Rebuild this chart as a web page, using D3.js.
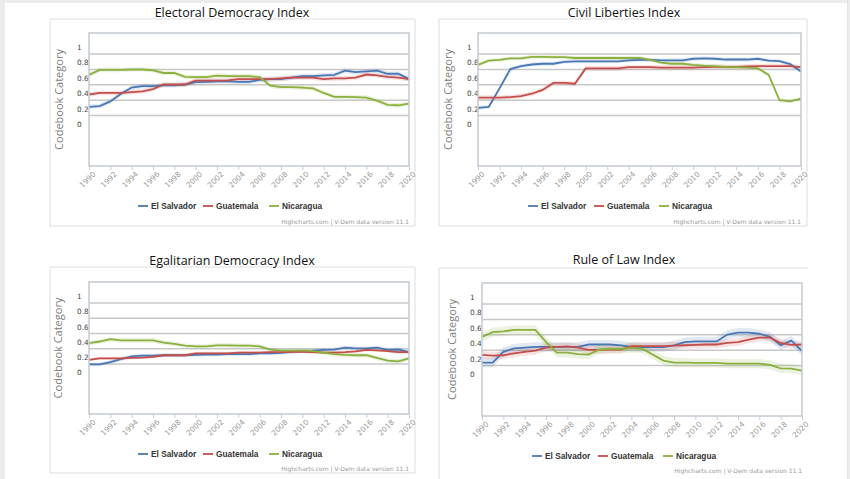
<!DOCTYPE html>
<html>
<head>
<meta charset="utf-8">
<script src="https://cdnjs.cloudflare.com/ajax/libs/d3/7.8.5/d3.min.js"></script>
<style>
body { margin: 0; background: #fff; }
svg { display: block; }
</style>
</head>
<body>
<svg id="chart" width="850" height="479"></svg>
<script>
// years on the x axis, labels every second year
var years = d3.range(1990, 2021);
var xTickYears = [1990, 1992, 1994, 1996, 1998, 2000, 2002, 2004, 2006, 2008, 2010, 2012, 2014, 2016, 2018, 2020];
var yTicks = [0, 0.2, 0.4, 0.6, 0.8, 1];
var yTickLabels = ["0", "0.2", "0.4", "0.6", "0.8", "1"];
var countries = ["El Salvador", "Guatemala", "Nicaragua"];
var colors = ["#4a78b4", "#c44e4b", "#8bb03e"];

// Electoral Democracy Index
var electoralElSalvador = [0.23, 0.24, 0.30, 0.40, 0.48, 0.50, 0.50, 0.51, 0.51, 0.52, 0.55, 0.555, 0.56, 0.56, 0.555, 0.555, 0.58, 0.59, 0.59, 0.61, 0.63, 0.63, 0.64, 0.645, 0.70, 0.68, 0.69, 0.70, 0.66, 0.66, 0.59];
var electoralGuatemala = [0.39, 0.41, 0.41, 0.41, 0.42, 0.43, 0.46, 0.52, 0.52, 0.52, 0.57, 0.57, 0.57, 0.575, 0.59, 0.59, 0.59, 0.59, 0.60, 0.61, 0.61, 0.61, 0.59, 0.60, 0.60, 0.61, 0.65, 0.64, 0.62, 0.61, 0.59];
var electoralNicaragua = [0.645, 0.71, 0.71, 0.71, 0.715, 0.715, 0.705, 0.67, 0.67, 0.62, 0.615, 0.615, 0.635, 0.63, 0.63, 0.63, 0.615, 0.505, 0.485, 0.485, 0.48, 0.47, 0.41, 0.36, 0.36, 0.355, 0.35, 0.31, 0.255, 0.25, 0.27];
var electoralBand = [0.03, 0.03, 0.03];

// Civil Liberties Index
var civilElSalvador = [0.215, 0.23, 0.47, 0.72, 0.76, 0.78, 0.79, 0.79, 0.815, 0.82, 0.82, 0.82, 0.82, 0.82, 0.835, 0.84, 0.84, 0.835, 0.835, 0.835, 0.855, 0.86, 0.855, 0.845, 0.845, 0.845, 0.855, 0.83, 0.825, 0.785, 0.69];
var civilGuatemala = [0.35, 0.35, 0.35, 0.355, 0.37, 0.40, 0.45, 0.54, 0.54, 0.53, 0.73, 0.73, 0.73, 0.73, 0.745, 0.745, 0.745, 0.74, 0.74, 0.74, 0.74, 0.745, 0.75, 0.75, 0.75, 0.755, 0.76, 0.76, 0.76, 0.76, 0.745];
var civilNicaragua = [0.775, 0.83, 0.84, 0.86, 0.86, 0.88, 0.88, 0.875, 0.875, 0.865, 0.865, 0.865, 0.865, 0.865, 0.865, 0.865, 0.84, 0.805, 0.79, 0.79, 0.775, 0.765, 0.76, 0.75, 0.745, 0.74, 0.73, 0.645, 0.315, 0.30, 0.335];
var civilBand = [0.025, 0.03, 0.025];

// Egalitarian Democracy Index
var egalitarianElSalvador = [0.11, 0.11, 0.14, 0.18, 0.215, 0.225, 0.225, 0.23, 0.23, 0.23, 0.235, 0.24, 0.24, 0.245, 0.245, 0.245, 0.255, 0.255, 0.26, 0.275, 0.285, 0.29, 0.30, 0.305, 0.33, 0.32, 0.32, 0.33, 0.30, 0.305, 0.27];
var egalitarianGuatemala = [0.17, 0.19, 0.19, 0.19, 0.195, 0.20, 0.21, 0.23, 0.23, 0.23, 0.255, 0.255, 0.255, 0.255, 0.265, 0.265, 0.265, 0.27, 0.27, 0.275, 0.275, 0.27, 0.265, 0.265, 0.27, 0.28, 0.30, 0.295, 0.285, 0.27, 0.27];
var egalitarianNicaragua = [0.39, 0.41, 0.44, 0.425, 0.425, 0.425, 0.425, 0.395, 0.38, 0.355, 0.345, 0.345, 0.36, 0.36, 0.355, 0.355, 0.345, 0.305, 0.29, 0.29, 0.29, 0.285, 0.265, 0.245, 0.235, 0.23, 0.23, 0.195, 0.16, 0.15, 0.19];
var egalitarianBand = [0.025, 0.02, 0.03];

// Rule of Law Index
var lawElSalvador = [0.155, 0.155, 0.295, 0.34, 0.35, 0.36, 0.36, 0.36, 0.36, 0.36, 0.39, 0.39, 0.39, 0.38, 0.36, 0.355, 0.355, 0.355, 0.38, 0.42, 0.43, 0.43, 0.43, 0.52, 0.545, 0.545, 0.53, 0.49, 0.38, 0.44, 0.305];
var lawGuatemala = [0.255, 0.245, 0.25, 0.275, 0.295, 0.31, 0.35, 0.36, 0.365, 0.35, 0.32, 0.32, 0.325, 0.325, 0.37, 0.37, 0.37, 0.37, 0.375, 0.38, 0.385, 0.39, 0.39, 0.41, 0.42, 0.455, 0.48, 0.48, 0.41, 0.385, 0.39];
var lawNicaragua = [0.49, 0.55, 0.56, 0.58, 0.58, 0.58, 0.425, 0.285, 0.285, 0.265, 0.26, 0.325, 0.335, 0.335, 0.345, 0.335, 0.26, 0.18, 0.155, 0.155, 0.15, 0.15, 0.15, 0.14, 0.14, 0.14, 0.14, 0.125, 0.08, 0.075, 0.05];
var lawBand = [0.06, 0.05, 0.06];

var panels = [
  { title: "Electoral Democracy Index", series: [electoralElSalvador, electoralGuatemala, electoralNicaragua], band: electoralBand,
    box: [50, 19, 415, 226], plot: [89, 33, 409, 166], titleX: 232, titleY: 12, yLabX: 77, yTitleX: 58, legendY: 206, legendX: [138, 203, 269], creditY: 221, rightEdge: true },
  { title: "Civil Liberties Index", series: [civilElSalvador, civilGuatemala, civilNicaragua], band: civilBand,
    box: [439, 19, 807, 226], plot: [478, 33, 801, 166], titleX: 624, titleY: 12, yLabX: 467, yTitleX: 447, legendY: 206, legendX: [528, 594, 659], creditY: 221, rightEdge: true },
  { title: "Egalitarian Democracy Index", series: [egalitarianElSalvador, egalitarianGuatemala, egalitarianNicaragua], band: egalitarianBand,
    box: [50, 267, 415, 473], plot: [89, 282, 409, 414], titleX: 232, titleY: 260, yLabX: 77, yTitleX: 57, legendY: 454, legendX: [138, 203, 269], creditY: 468, rightEdge: true },
  { title: "Rule of Law Index", series: [lawElSalvador, lawGuatemala, lawNicaragua], band: lawBand,
    box: [439, 268, 808, 500], plot: [482, 283, 802, 416], titleX: 624, titleY: 259, yLabX: 470, yTitleX: 451, legendY: 456, legendX: [532, 598, 663], creditY: 470, rightEdge: false }
];

var svg = d3.select("#chart");

// page frame
svg.append("rect").attr("width", 850).attr("height", 479).attr("fill", "#ececec");
svg.append("rect").attr("x", 5).attr("y", 3).attr("width", 842).attr("height", 476).attr("fill", "#fff");

var gridShift = 6.5; // grid lines sit a little below their labels in the picture

panels.forEach(function(p) {
  var g = svg.append("g");
  var b = p.box, pl = p.plot;

  // panel frame (left, top, right, bottom edges)
  var edges = [[b[0], b[1], b[2], b[1]], [b[0], b[1], b[0], b[3]], [b[0], b[3], b[2], b[3]]];
  if (p.rightEdge) edges.push([b[2], b[1], b[2], b[3]]);
  g.selectAll(".edge").data(edges).enter().append("line")
    .attr("x1", function(d) { return d[0]; }).attr("y1", function(d) { return d[1]; })
    .attr("x2", function(d) { return d[2]; }).attr("y2", function(d) { return d[3]; })
    .attr("stroke", "#dddddd").attr("stroke-width", 1);

  g.append("text")
    .attr("x", p.titleX).attr("y", p.titleY)
    .attr("text-anchor", "middle").attr("dominant-baseline", "central")
    .style("font-family", "'Open Sans', sans-serif").style("font-size", "12.5px")
    .style("fill", "#111")
    .text(p.title);

  var x = d3.scaleLinear().domain([1990, 2020]).range([pl[0], pl[2]]);
  var y = d3.scaleLinear().domain([-0.54, 1.19]).range([pl[3], pl[1]]);

  // grid lines
  g.selectAll(".grid").data(yTicks.filter(function(d) { return d > 0; })).enter()
    .append("line")
    .attr("x1", pl[0]).attr("x2", pl[2])
    .attr("y1", function(d) { return y(d) + gridShift; })
    .attr("y2", function(d) { return y(d) + gridShift; })
    .attr("stroke", "#c8c8c8").attr("stroke-width", 1.5);

  // y labels
  g.selectAll(".ylab").data(yTicks).enter()
    .append("text")
    .attr("x", p.yLabX).attr("y", function(d) { return y(d); })
    .attr("dominant-baseline", "central")
    .style("font-family", "'DejaVu Sans', sans-serif").style("font-size", "7.3px")
    .style("fill", "#444")
    .text(function(d, i) { return yTickLabels[i]; });

  g.append("text")
    .attr("transform", "translate(" + p.yTitleX + "," + (pl[1] + pl[3]) / 2 + ") rotate(-90)")
    .attr("text-anchor", "middle").attr("dominant-baseline", "central")
    .style("font-family", "'Open Sans', sans-serif").style("font-size", "11px")
    .style("fill", "#808080")
    .text("Codebook Category");

  // x axis ticks and labels
  var xAxis = g.append("g").attr("transform", "translate(0," + pl[3] + ")")
    .call(d3.axisBottom(x).tickValues(xTickYears).tickFormat(d3.format("d")).tickSize(4).tickPadding(3));
  xAxis.select(".domain").remove();
  xAxis.selectAll(".tick line").attr("stroke", "#c0d0e0");
  xAxis.selectAll(".tick text")
    .attr("text-anchor", "end")
    .attr("transform", "rotate(-45)")
    .attr("dx", "-0.2em").attr("dy", "0.5em")
    .style("font-family", "'DejaVu Sans', sans-serif").style("font-size", "7.5px")
    .style("fill", "#999");

  // bands then lines
  var area = d3.area()
    .x(function(d, i) { return x(years[i]); });
  var line = d3.line()
    .x(function(d, i) { return x(years[i]); })
    .y(function(d) { return y(d); });

  p.series.forEach(function(s, k) {
    area.y0(function(d) { return y(d - p.band[k]); })
        .y1(function(d) { return y(d + p.band[k]); });
    g.append("path").datum(s)
      .attr("d", area)
      .attr("fill", colors[k]).attr("fill-opacity", 0.16);
  });
  p.series.forEach(function(s, k) {
    g.append("path").datum(s)
      .attr("d", line)
      .attr("fill", "none").attr("stroke", colors[k]).attr("stroke-width", 1.8);
  });

  // plot border
  g.append("rect")
    .attr("x", pl[0]).attr("y", pl[1])
    .attr("width", pl[2] - pl[0]).attr("height", pl[3] - pl[1])
    .attr("fill", "none").attr("stroke", "#c4cad2").attr("stroke-width", 1.5);

  // legend
  countries.forEach(function(c, k) {
    var lx = p.legendX[k];
    g.append("line")
      .attr("x1", lx).attr("x2", lx + 10)
      .attr("y1", p.legendY).attr("y2", p.legendY)
      .attr("stroke", colors[k]).attr("stroke-width", 1.8);
    g.append("text")
      .attr("x", lx + 13).attr("y", p.legendY)
      .attr("dominant-baseline", "central")
      .style("font-family", "'Liberation Sans', Arial, sans-serif").style("font-size", "8.3px")
      .style("font-weight", "bold").style("fill", "#333")
      .text(c);
  });

  g.append("text")
    .attr("x", pl[2]).attr("y", p.creditY)
    .attr("text-anchor", "end").attr("dominant-baseline", "central")
    .style("font-family", "'DejaVu Sans', sans-serif").style("font-size", "6px")
    .style("fill", "#999")
    .text("Highcharts.com | V-Dem data version 11.1");
});

// thin line at the right edge of the page
svg.append("line").attr("x1", 847.5).attr("x2", 847.5).attr("y1", 0).attr("y2", 479)
  .attr("stroke", "#e2e2e2").attr("stroke-width", 1);
</script>
</body>
</html>
